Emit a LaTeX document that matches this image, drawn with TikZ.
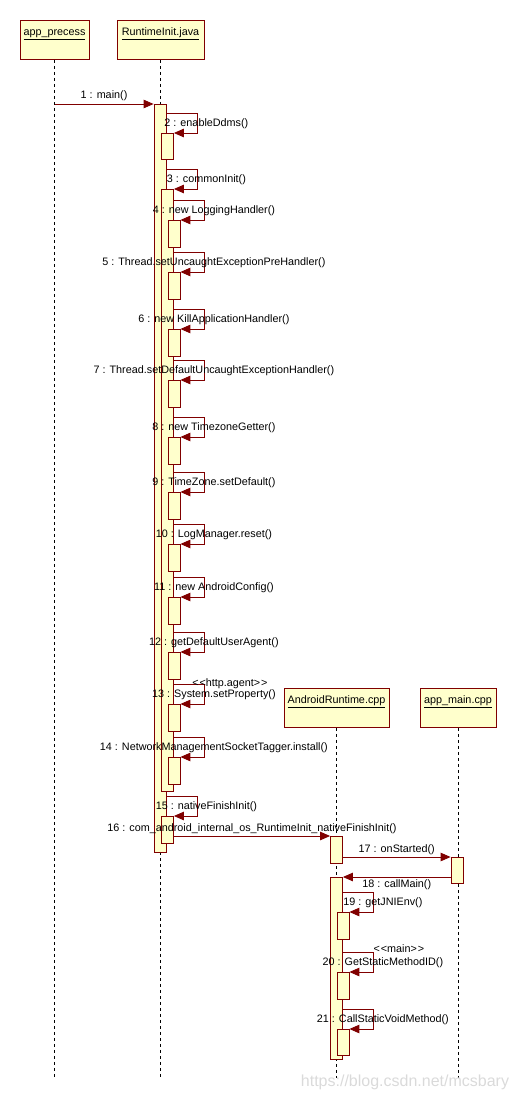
\documentclass[tikz,border=0pt]{standalone}
\usepackage{fontspec}
\setmainfont{Liberation Sans}
\usetikzlibrary{arrows.meta,calc}
\definecolor{cLine}{RGB}{128,0,0}
\definecolor{cFill}{RGB}{255,255,204}
\definecolor{cMark}{RGB}{218,218,218}
\tikzset{
	head/.style={draw=cLine, line width=0.8pt, fill=cFill, inner xsep=3pt,
		inner ysep=4pt, text height=11pt, text depth=20pt, minimum height=39pt,
		anchor=north, font=\fontsize{10.8}{12}\selectfont},
	act/.style={draw=cLine, line width=0.8pt, fill=cFill, minimum width=12pt,
		inner sep=0pt, anchor=north},
	life/.style={draw=black, line width=0.7pt, dash pattern=on 3pt off 3pt},
	msg/.style={-{Triangle[length=10pt,width=8.5pt]}, line width=0.9pt,
		draw=cLine},
	lbl/.style={font=\fontsize{10.8}{12}\selectfont, inner sep=1pt},
}
% self message: parent bar, nested bar, label name, label text
\newcommand{\selfcall}[4]{%
	\draw[msg] (#1.east |- #2.north) ++(0,-20) -- ++(31,0) |- (#2.north east);
	\node[lbl] (#3) at ($(#1.east |- #2.north)+(40,-9)$) {#4};}

\begin{document}
\begin{tikzpicture}[x=1pt,y=-1pt]
	\useasboundingbox (0,0) rectangle (516,1100);
	\coordinate (bottom) at (0,1078);
	% objects
	\node[head, minimum width=69pt] (pApp) at (54.5,20) {\underline{app\_precess}};
	\node[head, minimum width=87pt] (pRti) at (160.5,20) {\underline{RuntimeInit.java}};
	\node[head, minimum width=105pt] (pArt) at (336.5,688) {\underline{AndroidRuntime.cpp}};
	\node[head, minimum width=76pt] (pMain) at (458,688) {\underline{app\_main.cpp}};
	\draw[life] (pApp.south) -- (pApp.south |- bottom);
	\draw[life] (pRti.south) -- (pRti.south |- bottom);
	\draw[life] (pArt.south) -- (pArt.south |- bottom);
	\draw[life] (pMain.south) -- (pMain.south |- bottom);
	% RuntimeInit.java
	\node[act, minimum height=748pt] (a1) at (160,104) {};
	\draw[msg] (pApp.south |- a1.north) -- node[lbl, above=2pt] (l1) {1 : main()} (a1.north west);
	\node[act, minimum height=26pt] (a2) at (167.5,133) {};
	\selfcall{a1}{a2}{l2}{2 : enableDdms()}
	\node[act, minimum height=602pt] (a3) at (167.5,189) {};
	\selfcall{a1}{a3}{l3}{3 : commonInit()}
	\foreach \n/\t/\txt in {4/220/new LoggingHandler(),
		5/272/Thread.setUncaughtExceptionPreHandler(),
		6/329/new KillApplicationHandler(),
		7/380/Thread.setDefaultUncaughtExceptionHandler(),
		8/437/new TimezoneGetter(), 9/492/TimeZone.setDefault(),
		10/544/LogManager.reset(), 11/597/new AndroidConfig(),
		12/652/getDefaultUserAgent(), 13/704/System.setProperty(),
		14/757/NetworkManagementSocketTagger.install()} {
		\node[act, minimum height=27pt] (a\n) at (174,\t) {};
		\selfcall{a3}{a\n}{l\n}{\n{} : \txt}
	}
	\node[lbl] (s13) at ($(l13)+(16,-11)$) {<\kern1pt<http.agent>\kern1pt>};
	\node[act, minimum height=27pt] (a15) at (167.5,816) {};
	\selfcall{a1}{a15}{l15}{15 : nativeFinishInit()}
	% AndroidRuntime.cpp and app_main.cpp
	\node[act, minimum height=27pt] (ar1) at (336.5,836) {};
	\draw[msg] (a15.east |- ar1.north) -- node[lbl, above=1pt] (l16)
		{16 : com\_android\_internal\_os\_RuntimeInit\_nativeFinishInit()} (ar1.north west);
	\node[act, minimum height=26pt] (am) at (457,857) {};
	\draw[msg] (ar1.east |- am.north) -- node[lbl, above=1pt] (l17) {17 : onStarted()} (am.north west);
	\node[act, minimum height=182pt] (ar2) at (336.5,877) {};
	\draw[msg] (am.west |- ar2.north) -- node[lbl, below=1pt] (l18) {18 : callMain()} (ar2.north east);
	\node[act, minimum height=27pt] (a19) at (343,912) {};
	\selfcall{ar2}{a19}{l19}{19 : getJNIEnv()}
	\node[act, minimum height=27pt] (a20) at (343,972) {};
	\selfcall{ar2}{a20}{l20}{20 : GetStaticMethodID()}
	\node[lbl] (s20) at ($(l20)+(16,-14)$) {<\kern1pt<main>\kern1pt>};
	\node[act, minimum height=26pt] (a21) at (343,1029) {};
	\selfcall{ar2}{a21}{l21}{21 : CallStaticVoidMethod()}
	\node[font=\fontsize{16}{18}\selectfont, text=cMark] (mark) at (405,1082) {https://blog.csdn.net/mcsbary};
\end{tikzpicture}
\end{document}
